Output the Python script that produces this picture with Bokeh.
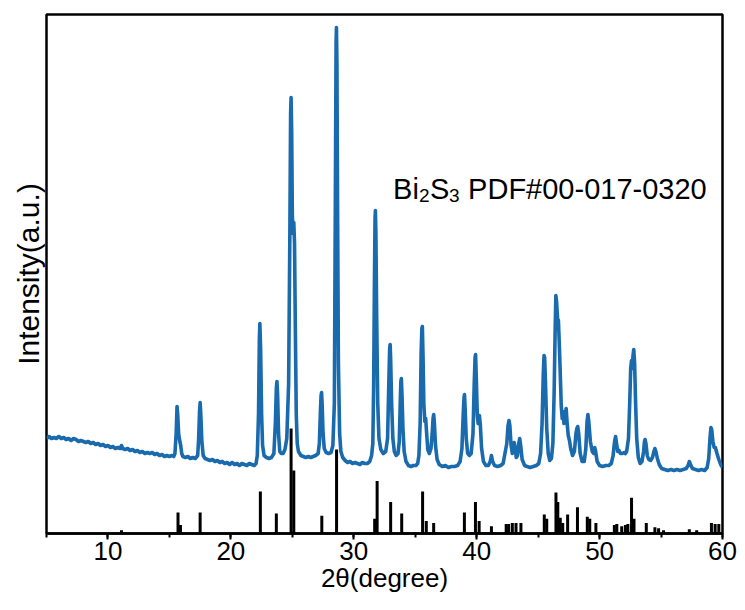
from bokeh.plotting import figure
from bokeh.models import Label, SingleIntervalTicker, FixedTicker, Range1d
from bokeh.embed import file_html
from bokeh.resources import INLINE

# Measured XRD scan: (2theta in degrees, intensity in a.u.)
scan_points = [
    (5.0, 95), (5.2, 97), (5.4, 95), (5.6, 96), (5.8, 95), (6.0, 97), (6.2, 95), (6.4, 96),
    (6.6, 94), (6.8, 95), (7.0, 93), (7.2, 95), (7.4, 94), (7.6, 92), (7.8, 93), (8.0, 92),
    (8.2, 91), (8.4, 92), (8.6, 90), (8.8, 91), (9.0, 89), (9.2, 90), (9.4, 88), (9.6, 89),
    (9.8, 87), (10.0, 88), (10.2, 86), (10.4, 87), (10.6, 85), (10.8, 86), (11.0, 85), (11.1, 88),
    (11.2, 85), (11.4, 84), (11.6, 85), (11.8, 83), (12.0, 84), (12.2, 82), (12.4, 83), (12.6, 81),
    (12.8, 82), (13.0, 80), (13.2, 81), (13.4, 80), (13.6, 81), (13.8, 79), (14.0, 80), (14.2, 78),
    (14.4, 79), (14.6, 77), (14.8, 78), (15.0, 77), (15.2, 78), (15.35, 77),
    (15.45, 80), (15.55, 100), (15.62, 127), (15.68, 118), (15.75, 100), (15.85, 92), (15.92, 88),
    (16.0, 80), (16.1, 77), (16.3, 76), (16.5, 77), (16.7, 75), (16.9, 76), (17.1, 75), (17.3, 78),
    (17.38, 95), (17.45, 122), (17.5, 131), (17.56, 118), (17.64, 92), (17.75, 78), (17.9, 75),
    (18.1, 74), (18.3, 73), (18.5, 74), (18.7, 72), (18.9, 73), (19.1, 71), (19.3, 72), (19.5, 70),
    (19.7, 71), (19.9, 69), (20.1, 71), (20.3, 69), (20.5, 70), (20.7, 68), (20.9, 70), (21.1, 69),
    (21.3, 68), (21.5, 70), (21.7, 69), (21.9, 68), (22.05, 70), (22.15, 78),
    (22.25, 120), (22.32, 195), (22.36, 210), (22.42, 185), (22.5, 120), (22.58, 88), (22.7, 78),
    (22.9, 76), (23.1, 75), (23.3, 76), (23.5, 80),
    (23.62, 110), (23.7, 145), (23.75, 152), (23.8, 140), (23.88, 100), (23.98, 82), (24.1, 80),
    (24.25, 80), (24.4, 84), (24.55, 95), (24.7, 150),
    (24.8, 300), (24.86, 420), (24.9, 436), (24.95, 400), (25.0, 320), (25.05, 300), (25.12, 311),
    (25.18, 290), (25.25, 200), (25.32, 120), (25.4, 90), (25.5, 82), (25.7, 78), (25.9, 77),
    (26.1, 76), (26.3, 77), (26.5, 76), (26.7, 77), (26.9, 78), (27.1, 80), (27.2, 90),
    (27.28, 120), (27.34, 138), (27.38, 141), (27.43, 128), (27.5, 100), (27.6, 85), (27.75, 81),
    (27.95, 80), (28.15, 81), (28.3, 88), (28.42, 130),
    (28.5, 330), (28.56, 490), (28.59, 506), (28.63, 470), (28.68, 330), (28.75, 170), (28.85, 100),
    (28.95, 82), (29.1, 76), (29.3, 73), (29.5, 71), (29.7, 72), (29.9, 70), (30.1, 71), (30.3, 70),
    (30.5, 69), (30.7, 71), (30.9, 70), (31.1, 70), (31.3, 72), (31.45, 78), (31.55, 90),
    (31.62, 150), (31.68, 250), (31.73, 315), (31.76, 323), (31.8, 300), (31.86, 220), (31.95, 130),
    (32.05, 95), (32.2, 84), (32.4, 80), (32.6, 82), (32.75, 95),
    (32.85, 150), (32.92, 185), (32.96, 189), (33.0, 175), (33.08, 130), (33.18, 95), (33.3, 82),
    (33.45, 78), (33.6, 80), (33.7, 92),
    (33.78, 130), (33.83, 152), (33.87, 155), (33.92, 140), (34.0, 105), (34.1, 82), (34.25, 72),
    (34.45, 68), (34.65, 67), (34.85, 68), (35.05, 68), (35.2, 70), (35.3, 78), (35.4, 110),
    (35.48, 180), (35.54, 205), (35.58, 207), (35.63, 180), (35.7, 130), (35.78, 112), (35.85, 115),
    (35.93, 100), (36.02, 84), (36.15, 80), (36.28, 85), (36.38, 100),
    (36.45, 115), (36.5, 119), (36.56, 110), (36.65, 88), (36.78, 74), (36.95, 69), (37.2, 67),
    (37.45, 68), (37.7, 66), (37.95, 67), (38.2, 67), (38.45, 68), (38.65, 72), (38.8, 85),
    (38.9, 118), (38.97, 136), (39.01, 139), (39.06, 125), (39.15, 95), (39.27, 80), (39.4, 78),
    (39.55, 80), (39.7, 100),
    (39.8, 150), (39.87, 176), (39.91, 179), (39.97, 155), (40.05, 118), (40.12, 110), (40.22, 118),
    (40.3, 108), (40.4, 85), (40.55, 72), (40.75, 68), (40.95, 68), (41.1, 72), (41.2, 78),
    (41.3, 72), (41.45, 68), (41.7, 67), (41.95, 68), (42.15, 70), (42.3, 80), (42.45, 90),
    (42.55, 108), (42.63, 113), (42.7, 108), (42.8, 88), (42.9, 80), (42.98, 88), (43.05, 91),
    (43.12, 86), (43.22, 76), (43.32, 78), (43.42, 90), (43.5, 95), (43.58, 88), (43.7, 74),
    (43.9, 68), (44.1, 67), (44.35, 66), (44.6, 67), (44.85, 68), (45.05, 70), (45.2, 80),
    (45.32, 110),
    (45.42, 160), (45.48, 178), (45.53, 176), (45.6, 150), (45.7, 105), (45.82, 80), (45.95, 73),
    (46.08, 75), (46.2, 90), (46.3, 140),
    (46.38, 200), (46.44, 238), (46.5, 232), (46.58, 215), (46.65, 213), (46.72, 190), (46.8, 160),
    (46.88, 128), (46.96, 115), (47.03, 122), (47.1, 110), (47.2, 118), (47.28, 125), (47.36, 110),
    (47.45, 98), (47.55, 93), (47.65, 85), (47.8, 78), (47.95, 82), (48.08, 100),
    (48.15, 105), (48.22, 107), (48.3, 100), (48.42, 80), (48.58, 72), (48.75, 72), (48.88, 85),
    (48.98, 112),
    (49.05, 119), (49.12, 112), (49.25, 92), (49.4, 82), (49.52, 80), (49.6, 86), (49.68, 82),
    (49.8, 72), (50.0, 68), (50.25, 67), (50.5, 68), (50.75, 68), (50.95, 70), (51.1, 78),
    (51.22, 92), (51.3, 97), (51.38, 90), (51.48, 82), (51.58, 83), (51.7, 80), (51.85, 80),
    (52.0, 81), (52.1, 80), (52.2, 82), (52.35, 95), (52.45, 130),
    (52.53, 165), (52.6, 173), (52.66, 165), (52.72, 178), (52.78, 184), (52.85, 170), (52.93, 130),
    (53.02, 95), (53.15, 76), (53.3, 70), (53.45, 72), (53.58, 82),
    (53.65, 92), (53.7, 94), (53.77, 90), (53.88, 78), (54.0, 74), (54.15, 73), (54.3, 76),
    (54.42, 82), (54.5, 85), (54.58, 82), (54.7, 75), (54.85, 69), (55.05, 65), (55.3, 64),
    (55.55, 63), (55.8, 64), (56.05, 63), (56.3, 64), (56.55, 63), (56.8, 64), (57.05, 65),
    (57.2, 68), (57.3, 72), (57.4, 69), (57.55, 65), (57.8, 64), (58.05, 63), (58.3, 64),
    (58.55, 63), (58.75, 66), (58.88, 75), (58.98, 95),
    (59.06, 106), (59.12, 104), (59.22, 92), (59.32, 86), (59.42, 86), (59.55, 80), (59.7, 74),
    (59.85, 69), (60.0, 66),
]
two_theta = [pt[0] for pt in scan_points]
intensity = [pt[1] for pt in scan_points]

# Reference pattern Bi2S3, PDF#00-017-0320: line positions and relative intensities (%)
pdf_2theta = [
    11.1, 15.7, 15.9, 17.5, 22.4, 23.7, 24.9, 25.12, 27.4, 28.6,
    31.7, 31.9, 33.0, 33.9, 35.6, 35.9, 36.5, 39.0, 39.9, 40.2,
    41.2, 42.4, 42.6, 42.9, 43.2, 43.6, 45.5, 45.7, 46.45, 46.6,
    46.8, 47.0, 47.4, 48.2, 49.0, 49.2, 49.7, 51.2, 51.4, 51.8,
    52.1, 52.3, 52.6, 52.8, 53.8, 54.5, 54.8, 55.2, 57.3, 57.9,
    59.1, 59.4, 59.7,
]
pdf_rel_intensity = [
    3, 20, 8, 20, 40, 19, 100, 60, 17, 80,
    14, 50, 30, 19, 40, 12, 10, 20, 30, 12,
    7, 9, 9, 10, 10, 10, 18, 14, 39, 30,
    15, 10, 18, 25, 16, 14, 10, 8, 9, 7,
    8, 9, 34, 14, 10, 6, 5, 3, 4, 3,
    10, 9, 9,
]
STICK_SCALE = 1.05  # a.u. per 1 % of relative intensity

FONT = "Liberation Sans"
BLUE = "#1a6aae"

p = figure(
    width=745, height=610,
    x_range=Range1d(5, 60), y_range=Range1d(0, 519),
    output_backend="svg", toolbar_location=None,
    min_border_left=46, min_border_right=23, min_border_top=14, min_border_bottom=77,
)
p.background_fill_color = "white"
p.border_fill_color = "white"
p.grid.visible = False
p.outline_line_color = "black"
p.outline_line_width = 2.5

xa = p.xaxis[0]
xa.ticker = SingleIntervalTicker(interval=10, num_minor_ticks=2)
xa.axis_line_width = 2.5
xa.major_tick_in = 0
xa.major_tick_out = 6
xa.minor_tick_in = 0
xa.minor_tick_out = 4
xa.major_tick_line_width = 2
xa.minor_tick_line_width = 2
xa.major_label_text_font = FONT
xa.major_label_text_font_size = "26px"
xa.major_label_text_color = "black"
xa.major_label_standoff = 2
xa.axis_label = "2θ(degree)"
xa.axis_label_text_font = FONT
xa.axis_label_text_font_size = "26px"
xa.axis_label_text_font_style = "normal"
xa.axis_label_text_color = "black"
xa.axis_label_standoff = 0

# left side: title only, no ticks or tick labels
ya = p.yaxis[0]
ya.ticker = FixedTicker(ticks=[])
ya.axis_label = "Intensity(a.u.)"
ya.axis_label_text_font = FONT
ya.axis_label_text_font_size = "30px"
ya.axis_label_text_font_style = "normal"
ya.axis_label_text_color = "black"
ya.axis_label_standoff = 2
ya.major_label_standoff = 0
ya.major_tick_out = 0
ya.major_tick_line_color = None
ya.minor_tick_line_color = None
ya.axis_line_color = None

# sample scan
p.line(two_theta, intensity, line_color=BLUE, line_width=3.6, line_join="round")

# reference stick pattern
p.segment(x0=pdf_2theta, y0=[0] * len(pdf_2theta), x1=pdf_2theta,
          y1=[r * STICK_SCALE for r in pdf_rel_intensity],
          line_color="black", line_width=3)

# "Bi2S3 PDF#00-017-0320" with subscripts, built from pieces
tx, ty = 33.2, 345
big, small = "29px", "19px"
pieces = [
    ("Bi", 0, 0, big),
    ("2", 26, -7, small),
    ("S", 37, 0, big),
    ("3", 56, -7, small),
    ("PDF#00-017-0320", 75, 0, big),
]
for txt, dx, dy, size in pieces:
    p.add_layout(Label(x=tx, y=ty, x_offset=dx, y_offset=dy, text=txt,
                       text_font=FONT, text_font_size=size, text_color="black",
                       text_align="left", text_baseline="alphabetic"))

open("out.html", "w").write(file_html(p, INLINE))
